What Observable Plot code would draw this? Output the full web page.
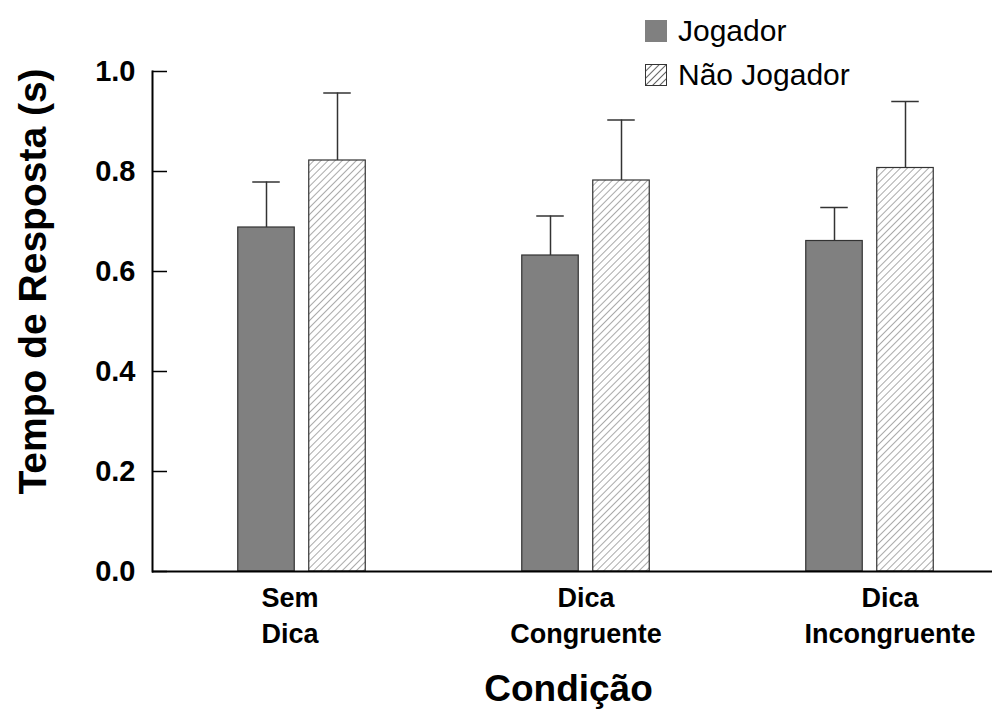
<!DOCTYPE html>
<html>
<head>
<meta charset="utf-8">
<script src="https://cdn.jsdelivr.net/npm/d3@7"></script>
<script src="https://cdn.jsdelivr.net/npm/@observablehq/plot@0.6"></script>
<style>
  html, body { margin: 0; padding: 0; background: #fff; }
  #wrap { position: relative; width: 992px; height: 713px; font-family: "Liberation Sans", Arial, sans-serif; }
  #legend { position: absolute; left: 645px; top: 9px; font-size: 30px; color: #000; }
  #legend .row { display: flex; align-items: center; height: 44px; }
  #legend .sw { width: 22px; height: 22px; margin-right: 11px; box-sizing: border-box; }
</style>
</head>
<body>
<div id="wrap"></div>
<script>
const conditions = ["Sem Dica", "Dica Congruente", "Dica Incongruente"];
const conditionLabels = ["Sem\nDica", "Dica\nCongruente", "Dica\nIncongruente"];
const series = ["Jogador", "Não Jogador"];
const jogadorMean = [0.688, 0.632, 0.661];
const jogadorErr = [0.091, 0.079, 0.067];
const naoJogadorMean = [0.822, 0.782, 0.807];
const naoJogadorErr = [0.135, 0.121, 0.133];
const yTicks = [0, 0.2, 0.4, 0.6, 0.8, 1.0];
const yLabel = "Tempo de Resposta (s)";
const xLabel = "Condição";

const jog = conditions.map((c, i) => ({cond: c, mean: jogadorMean[i], upper: jogadorMean[i] + jogadorErr[i]}));
const nao = conditions.map((c, i) => ({cond: c, mean: naoJogadorMean[i], upper: naoJogadorMean[i] + naoJogadorErr[i]}));

const font = '"Liberation Sans", Arial, sans-serif';

const defs = () => {
  const d = d3.create("svg:defs");
  const p = d.append("pattern").attr("id", "hatch").attr("patternUnits", "userSpaceOnUse")
    .attr("width", 5).attr("height", 10).attr("patternTransform", "rotate(45)");
  p.append("rect").attr("width", 5).attr("height", 10).attr("fill", "#fff");
  p.append("line").attr("x1", 0.5).attr("y1", 0).attr("x2", 0.5).attr("y2", 10)
    .attr("stroke", "#a0a0a0").attr("stroke-width", 0.9);
  return d.node();
};

const barStroke = "#333";
const errStroke = "#333";

const chart = Plot.plot({
  width: 992,
  height: 713,
  marginLeft: 152,
  marginRight: 0,
  marginTop: 71,
  marginBottom: 142,
  style: {fontFamily: font, background: "#fff", color: "#000"},
  x: {domain: conditions, paddingInner: 0.3, paddingOuter: 0.124, align: 0.68, axis: null},
  y: {domain: [0, 1], axis: null},
  marks: [
    defs,
    // bars
    Plot.barY(jog, {x: "cond", y: "mean", fill: "#808080", stroke: barStroke, strokeWidth: 1.2, insetLeft: 35.75, insetRight: 106.75}),
    Plot.barY(nao, {x: "cond", y: "mean", fill: "url(#hatch)", stroke: barStroke, strokeWidth: 1.2, insetLeft: 106.75, insetRight: 35.75}),
    // error whiskers
    Plot.ruleX(jog, {x: "cond", y1: "mean", y2: "upper", dx: -35.5, stroke: errStroke, strokeWidth: 1.5}),
    Plot.ruleX(nao, {x: "cond", y1: "mean", y2: "upper", dx: 35.5, stroke: errStroke, strokeWidth: 1.5}),
    Plot.tickY(jog, {x: "cond", y: "upper", insetLeft: 50.25, insetRight: 121.25, stroke: errStroke, strokeWidth: 1.5}),
    Plot.tickY(nao, {x: "cond", y: "upper", insetLeft: 121.25, insetRight: 50.25, stroke: errStroke, strokeWidth: 1.5}),
    // y axis: inward ticks, labels
    Plot.tickY(yTicks, {y: d => d, insetRight: 825, stroke: "#000", strokeWidth: 1.5}),
    Plot.axisY({ticks: yTicks, tickSize: 0, tickPadding: 17, tickFormat: d => d.toFixed(1), fontSize: 29, fontWeight: "bold", fill: "#000", label: null}),
    Plot.frame({anchor: "left", stroke: "#000", strokeWidth: 2}),
    Plot.ruleY([0], {stroke: "#000", strokeWidth: 2}),
    // category labels
    ...conditions.map((c, i) => Plot.text([c], {
      x: d => d, text: () => conditionLabels[i], frameAnchor: "bottom", lineAnchor: "top",
      dy: 11, dx: [-12, 0, 20][i], fontSize: 27, fontWeight: "bold", lineHeight: 1.3, fill: "#000"
    })),
    // axis titles
    Plot.text([xLabel], {frameAnchor: "bottom", lineAnchor: "bottom", dy: 129, dx: -4, fontSize: 37, fontWeight: "bold", fill: "#000", style: "letter-spacing:1.5px"}),
    Plot.text([yLabel], {frameAnchor: "left", textAnchor: "middle", lineAnchor: "bottom", rotate: -90, dx: -107, dy: -40, fontSize: 39, fontWeight: "bold", fill: "#000"})
  ]
});

const wrap = document.getElementById("wrap");
wrap.appendChild(chart);
const legend = document.createElement("div");
legend.id = "legend";
legend.innerHTML = `
  <div class="row"><span class="sw" style="background:#808080"></span><span>${series[0]}</span></div>
  <div class="row"><svg class="sw" width="22" height="22" style="overflow:visible"><defs><pattern id="hatchL" patternUnits="userSpaceOnUse" width="5" height="10" patternTransform="rotate(45)"><rect width="5" height="10" fill="#fff"/><line x1="0.5" y1="0" x2="0.5" y2="10" stroke="#555" stroke-width="0.9"/></pattern></defs><rect x="0.5" y="0.5" width="21" height="21" fill="url(#hatchL)" stroke="#333" stroke-width="1"/></svg><span>${series[1]}</span></div>`;
wrap.appendChild(legend);
</script>
</body>
</html>
